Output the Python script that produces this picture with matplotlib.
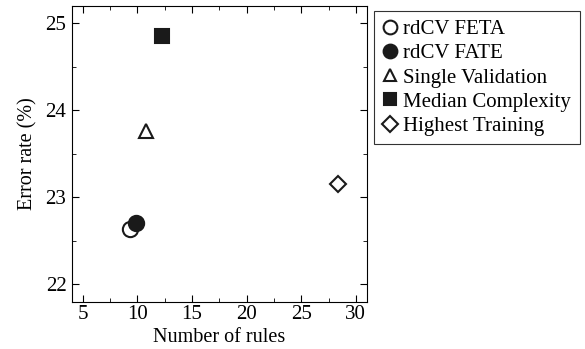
import matplotlib
matplotlib.use('Agg')
import matplotlib.pyplot as plt
from matplotlib.ticker import MultipleLocator

plt.rcParams['font.family'] = ['Liberation Serif', 'DejaVu Serif']
plt.rcParams['mathtext.fontset'] = 'stix'

labels = ['rdCV FETA', 'rdCV FATE', 'Single Validation', 'Median Complexity', 'Highest Training']
n_rules = [9.3, 9.85, 10.8, 12.25, 28.4]
err_rate = [22.64, 22.71, 23.76, 24.86, 23.15]
markers = ['o', 'o', '^', 's', 'D']
faces = ['white', '#1a1a1a', 'white', '#1a1a1a', 'white']
sizes = [11, 11, 10, 10, 8.5]

fig = plt.figure(figsize=(5.85, 3.49), dpi=100)
ax = fig.add_axes([0.123, 0.135, 0.504, 0.848])

for x, y, lab, m, fc, ms in zip(n_rules, err_rate, labels, markers, faces, sizes):
    ax.plot(x, y, linestyle='none', marker=m, markersize=ms, markerfacecolor=fc,
            markeredgecolor='#1a1a1a', markeredgewidth=1.5, label=lab)

ax.set_xlim(4, 31)
ax.set_ylim(21.8, 25.2)
ax.xaxis.set_major_locator(MultipleLocator(5))
ax.xaxis.set_minor_locator(MultipleLocator(2.5))
ax.yaxis.set_major_locator(MultipleLocator(1))
ax.yaxis.set_minor_locator(MultipleLocator(0.5))
ax.tick_params(which='both', direction='in', top=True, right=True, labelsize=15)
ax.tick_params(axis='x', pad=2)
ax.tick_params(axis='y', pad=4)
ax.tick_params(which='major', length=5)
ax.tick_params(which='minor', length=3)
ax.set_xlabel('Number of rules', fontsize=14.5, labelpad=3)
ax.set_ylabel('Error rate (%)', fontsize=14.5, labelpad=6)

leg = ax.legend(loc='upper left', bbox_to_anchor=(1.025, 0.982), fontsize=15,
                frameon=True, fancybox=False, edgecolor='black', markerscale=0.9,
                handlelength=0.7, handletextpad=0.3, borderpad=0.4, labelspacing=0.22,
                borderaxespad=0)
leg.get_frame().set_linewidth(0.8)

fig.savefig('out.png', dpi=100)
